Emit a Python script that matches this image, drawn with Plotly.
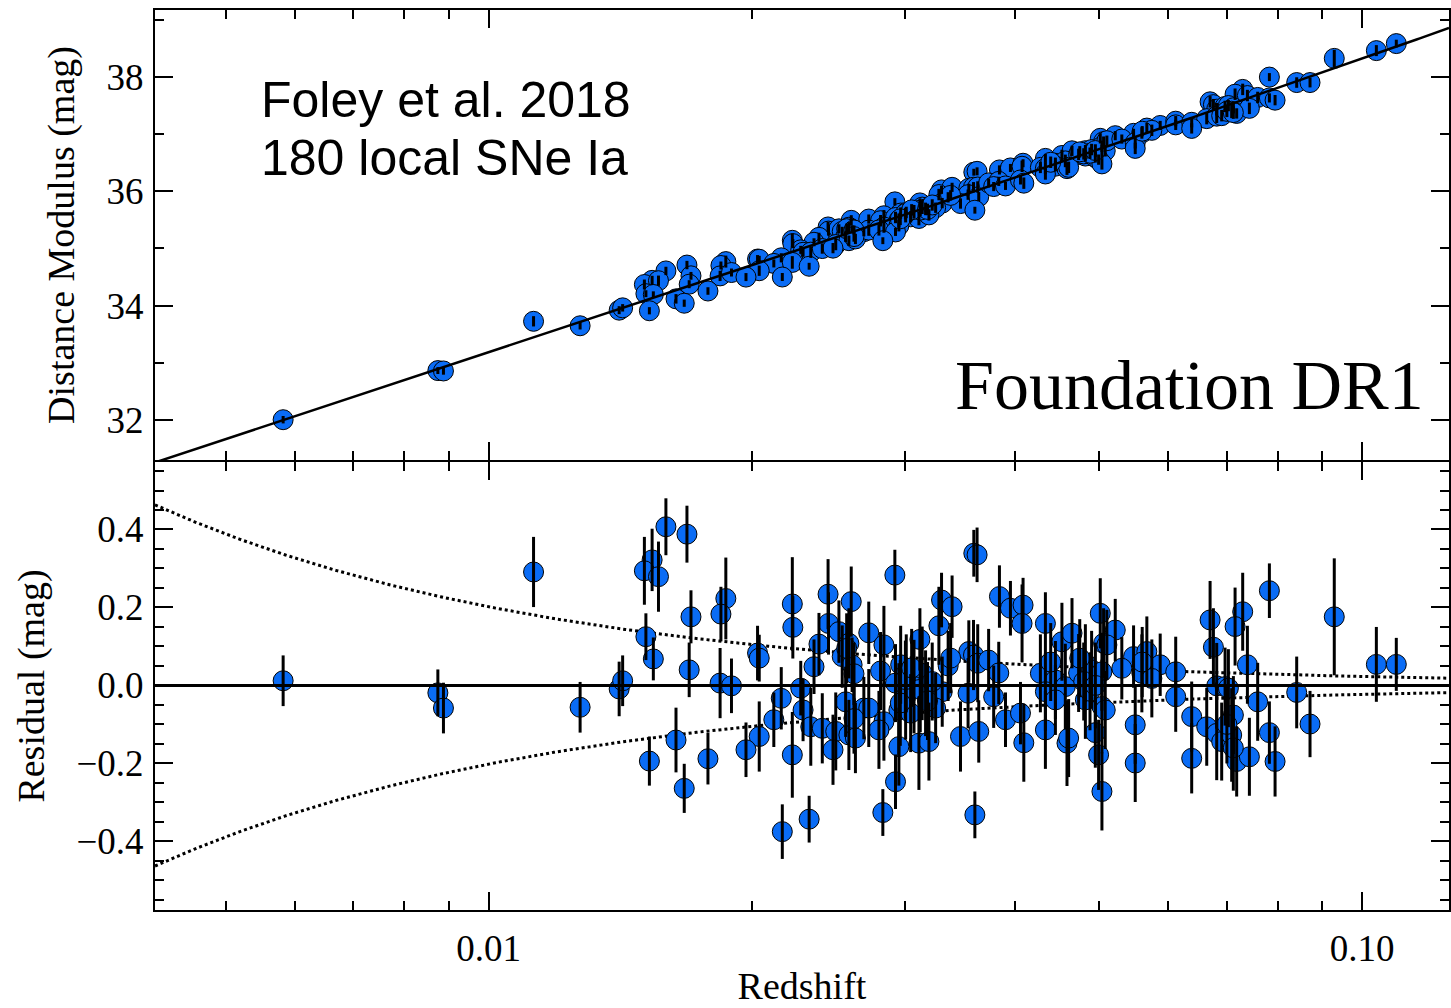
import numpy as np
import plotly.graph_objects as go
from plotly.subplots import make_subplots

# Foundation DR1 low-redshift sample: redshift, Hubble residual (mag) and its 1-sigma error
redshift = [
    0.00582, 0.00875, 0.00888, 0.01126, 0.01273, 0.01411, 0.01424, 0.01596, 0.01687, 0.01539,
    0.01508, 0.01565, 0.01869, 0.01845, 0.01705, 0.01514, 0.01544, 0.01697, 0.01841, 0.01897,
    0.01639, 0.01528, 0.01783, 0.01675, 0.02227, 0.02230, 0.02447, 0.02601, 0.02450, 0.02518,
    0.02389, 0.02585, 0.02540, 0.02607, 0.02358, 0.02032, 0.02041, 0.02277, 0.02163, 0.02291,
    0.02121, 0.02563, 0.02689, 0.02338, 0.02410, 0.02497, 0.02585, 0.02630, 0.02041, 0.01971,
    0.02479, 0.02227, 0.02169, 0.02328, 0.02918, 0.03593, 0.03624, 0.03300, 0.03393, 0.03277,
    0.02724, 0.02835, 0.03117, 0.02810, 0.02963, 0.03007, 0.03358, 0.03546, 0.03590, 0.03630,
    0.03136, 0.02923, 0.03069, 0.03306, 0.03164, 0.03539, 0.03002, 0.02724, 0.02949, 0.03249,
    0.03042, 0.02835, 0.02798, 0.03109, 0.02949, 0.03192, 0.03469, 0.03640, 0.02923, 0.02827,
    0.03603, 0.03844, 0.03957, 0.04091, 0.04080, 0.04339, 0.05014, 0.04532, 0.04654, 0.05058,
    0.03736, 0.03837, 0.04282, 0.04455, 0.04573, 0.04339, 0.04821, 0.04736, 0.04901, 0.05036,
    0.03786, 0.04455, 0.04821, 0.05036, 0.05080, 0.03906, 0.04063, 0.04339, 0.04099, 0.04593,
    0.04613, 0.04949, 0.04992, 0.05036, 0.05216, 0.05102, 0.05474, 0.05669, 0.05872, 0.05307,
    0.05595, 0.05744, 0.06117, 0.06697, 0.06756, 0.06815, 0.06967, 0.06117, 0.06380, 0.06638,
    0.06815, 0.06905, 0.05498, 0.05498, 0.06380, 0.07830, 0.07298, 0.07153, 0.07389, 0.09290,
    0.10380, 0.10940, 0.08414, 0.08715, 0.07028, 0.07592, 0.07121, 0.07089, 0.07830, 0.07183,
    0.07428, 0.07948, 0.03000, 0.03120, 0.03050, 0.03180, 0.02960, 0.03220, 0.04800, 0.04880,
    0.04750, 0.04950, 0.05600, 0.02570, 0.02620, 0.07000, 0.07120, 0.03380, 0.02620, 0.04400,
]

residual = [
    0.012, -0.019, -0.058, 0.291, -0.056, -0.009, 0.012, 0.407, 0.388, 0.322,
    0.294, 0.279, 0.223, 0.183, 0.176, 0.125, 0.068, 0.040, 0.006, -0.001,
    -0.140, -0.194, -0.188, -0.264, 0.209, 0.149, 0.234, 0.215, 0.159, 0.138,
    0.106, 0.108, 0.074, 0.053, 0.048, 0.083, 0.070, -0.007, -0.033, -0.063,
    -0.088, -0.042, -0.058, -0.106, -0.110, -0.118, -0.127, -0.135, -0.131, -0.165,
    -0.165, -0.178, -0.375, -0.343, 0.283, 0.339, 0.335, 0.219, 0.202, 0.153,
    0.135, 0.104, 0.118, 0.037, 0.053, 0.031, 0.050, 0.087, 0.078, 0.057,
    0.031, 0.006, -0.003, -0.016, -0.020, -0.020, -0.029, -0.058, -0.063, -0.058,
    -0.071, -0.093, -0.114, -0.148, -0.157, -0.144, -0.131, -0.118, -0.247, -0.326,
    -0.332, 0.228, 0.198, 0.206, 0.159, 0.159, 0.185, 0.112, 0.134, 0.108,
    0.065, 0.032, 0.031, 0.014, -0.003, -0.016, 0.057, 0.032, 0.040, 0.035,
    -0.029, -0.037, -0.037, -0.054, -0.063, -0.088, -0.071, -0.114, -0.147, -0.148,
    -0.135, -0.121, -0.178, -0.272, 0.142, 0.104, 0.074, 0.087, 0.053, 0.044,
    0.031, 0.018, 0.035, 0.168, 0.098, -0.001, -0.003, -0.029, -0.080, -0.106,
    -0.123, -0.144, -0.101, -0.199, -0.187, 0.243, 0.189, 0.151, 0.053, 0.176,
    0.054, 0.054, -0.018, -0.099, -0.007, -0.042, -0.076, -0.127, -0.121, -0.195,
    -0.183, -0.195, 0.015, -0.010, 0.045, -0.040, -0.045, 0.010, 0.010, -0.015,
    0.070, 0.000, 0.060, 0.095, 0.030, -0.100, -0.160, 0.070, -0.085, 0.060,
]

residual_err = [
    0.065, 0.060, 0.065, 0.090, 0.065, 0.070, 0.065, 0.073, 0.073, 0.080,
    0.087, 0.090, 0.105, 0.070, 0.068, 0.060, 0.055, 0.070, 0.090, 0.070,
    0.083, 0.063, 0.066, 0.063, 0.120, 0.080, 0.090, 0.090, 0.080, 0.080,
    0.080, 0.090, 0.080, 0.070, 0.070, 0.070, 0.060, 0.070, 0.080, 0.080,
    0.070, 0.090, 0.080, 0.100, 0.090, 0.100, 0.090, 0.090, 0.090, 0.070,
    0.090, 0.110, 0.070, 0.060, 0.065, 0.060, 0.070, 0.070, 0.080, 0.100,
    0.080, 0.100, 0.080, 0.100, 0.100, 0.100, 0.090, 0.080, 0.090, 0.100,
    0.120, 0.100, 0.120, 0.090, 0.110, 0.090, 0.110, 0.100, 0.120, 0.090,
    0.100, 0.100, 0.100, 0.120, 0.100, 0.100, 0.090, 0.080, 0.070, 0.060,
    0.060, 0.080, 0.070, 0.070, 0.100, 0.080, 0.090, 0.100, 0.090, 0.090,
    0.080, 0.080, 0.100, 0.100, 0.110, 0.100, 0.100, 0.100, 0.100, 0.100,
    0.080, 0.090, 0.100, 0.120, 0.100, 0.070, 0.080, 0.100, 0.100, 0.110,
    0.100, 0.090, 0.090, 0.100, 0.080, 0.090, 0.080, 0.090, 0.080, 0.080,
    0.100, 0.100, 0.090, 0.100, 0.100, 0.110, 0.100, 0.090, 0.090, 0.100,
    0.120, 0.100, 0.100, 0.100, 0.090, 0.070, 0.100, 0.100, 0.100, 0.150,
    0.096, 0.068, 0.092, 0.085, 0.100, 0.100, 0.100, 0.120, 0.080, 0.090,
    0.100, 0.090, 0.100, 0.110, 0.100, 0.100, 0.110, 0.100, 0.100, 0.100,
    0.100, 0.110, 0.090, 0.090, 0.080, 0.100, 0.110, 0.090, 0.090, 0.100,
]

# Cosmology for the reference Hubble line (low-z expansion)
H0 = 70.0
Q0 = -0.55
C_KMS = 299792.458


def distance_modulus(z):
    z = np.asarray(z, dtype=float)
    dl = C_KMS * z / H0 * (1.0 + 0.5 * (1.0 - Q0) * z)
    return 5.0 * np.log10(dl) + 25.0


z = np.array(redshift)
res = np.array(residual)
err = np.array(residual_err)
mu = distance_modulus(z) + res

Z_MIN, Z_MAX = 0.004152, 0.1257
z_grid = np.logspace(np.log10(Z_MIN), np.log10(Z_MAX), 400)
mu_line = distance_modulus(z_grid)
# peculiar-velocity scatter envelope
vel_env = 0.0026 * z_grid ** -0.945

BLUE = "#0a6cf5"
SERIF = "Liberation Serif, Times New Roman, serif"
SANS = "Liberation Sans, Arial, Helvetica, sans-serif"

fig = make_subplots(rows=2, cols=1, shared_xaxes=True, vertical_spacing=0)

marker = dict(size=20, color=BLUE, line=dict(color="black", width=1))
bars = dict(type="data", array=err, thickness=3, width=0, color="black")
hidden = dict(size=1, color="rgba(0,0,0,0)")

# --- top panel: Hubble diagram ---
fig.add_trace(go.Scatter(x=z, y=mu, mode="markers", marker=marker, showlegend=False), row=1, col=1)
fig.add_trace(go.Scatter(x=z, y=mu, mode="markers", marker=hidden, error_y=bars, showlegend=False), row=1, col=1)
fig.add_trace(go.Scatter(x=z_grid, y=mu_line, mode="lines", line=dict(color="black", width=2.5),
                         showlegend=False), row=1, col=1)

# --- bottom panel: residuals ---
for sign in (1, -1):
    fig.add_trace(go.Scatter(x=z_grid, y=sign * vel_env, mode="lines",
                             line=dict(color="black", width=3, dash="dot"), showlegend=False),
                  row=2, col=1)
fig.add_trace(go.Scatter(x=z, y=res, mode="markers", marker=marker, showlegend=False), row=2, col=1)
fig.add_trace(go.Scatter(x=z, y=res, mode="markers", marker=hidden, error_y=bars, showlegend=False), row=2, col=1)
fig.add_trace(go.Scatter(x=[Z_MIN, Z_MAX], y=[0, 0], mode="lines", line=dict(color="black", width=3),
                         showlegend=False), row=2, col=1)

minor_x = [0.005, 0.006, 0.007, 0.008, 0.009, 0.02, 0.03, 0.04, 0.05, 0.06, 0.07, 0.08, 0.09]
xrange_log = [np.log10(Z_MIN), np.log10(Z_MAX)]

axis_common = dict(showline=True, linecolor="black", linewidth=2, ticks="inside", tickcolor="black",
                   tickwidth=2, ticklen=18, mirror="ticks", showgrid=False, zeroline=False)

fig.update_xaxes(type="log", range=xrange_log, tickvals=[0.01, 0.1], ticktext=["0.01", "0.10"],
                 minor=dict(tickvals=minor_x, ticks="inside", ticklen=9, tickwidth=2, tickcolor="black",
                            showgrid=False),
                 tickfont=dict(family=SERIF, size=37, color="black"), **axis_common)
fig.update_xaxes(showticklabels=False, row=1, col=1)
fig.update_xaxes(title=dict(text="Redshift", font=dict(family=SERIF, size=38, color="black"), standoff=4),
                 ticklabelstandoff=5, row=2, col=1)

fig.update_yaxes(range=[31.30, 39.172], tickvals=[32, 34, 36, 38], ticktext=["32", "34", "36", "38"],
                 minor=dict(dtick=1, tick0=0, ticks="inside", ticklen=9, tickwidth=2, tickcolor="black",
                            showgrid=False),
                 tickfont=dict(family=SERIF, size=37, color="black"),
                 title=dict(text="Distance Modulus (mag)", font=dict(family=SERIF, size=38, color="black"),
                            standoff=20),
                 ticklabelstandoff=2, domain=[0.5, 1.0], row=1, col=1, **axis_common)

# bottom panel starts just under the shared border so the two frame lines coincide
res_ticks = [-0.4, -0.2, 0.0, 0.2, 0.4]
fig.update_yaxes(range=[-0.576, 0.5731], tickvals=res_ticks,
                 ticktext=["\u22120.4", "\u22120.2", "0.0", "0.2", "0.4"],
                 minor=dict(dtick=0.05, tick0=0, ticks="inside", ticklen=9, tickwidth=2, tickcolor="black",
                            showgrid=False),
                 tickfont=dict(family=SERIF, size=37, color="black"),
                 title=dict(text="Residual (mag)", font=dict(family=SERIF, size=38, color="black"),
                            standoff=20),
                 ticklabelstandoff=2, domain=[0.0, 448 / 900], row=2, col=1, **axis_common)

fig.add_annotation(text="Foley et al. 2018", xref="paper", yref="paper", x=0.0800, y=0.90,
                   xanchor="left", yanchor="middle", showarrow=False,
                   font=dict(family=SANS, size=50, color="black"))
fig.add_annotation(text="180 local SNe Ia", xref="paper", yref="paper", x=0.0800, y=0.8356,
                   xanchor="left", yanchor="middle", showarrow=False,
                   font=dict(family=SANS, size=50, color="black"))
fig.add_annotation(text="Foundation DR1", xref="paper", yref="paper", x=0.982, y=0.5833,
                   xanchor="right", yanchor="middle", showarrow=False,
                   font=dict(family=SERIF, size=70, color="black"))

fig.update_layout(width=1451, height=1008, margin=dict(l=155, r=0, t=10, b=98),
                  paper_bgcolor="white", plot_bgcolor="white", showlegend=False)

fig.write_html("out.html")
